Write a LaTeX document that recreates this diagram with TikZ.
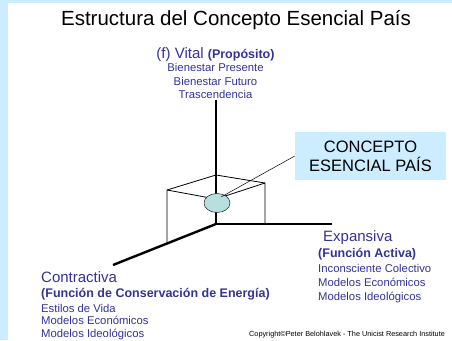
\documentclass[tikz,border=0pt]{standalone}
\usepackage{fontspec}
\setmainfont{Liberation Sans}
\usetikzlibrary{shapes.geometric}
\definecolor{txtblue}{RGB}{51,51,153}
\definecolor{paleblue}{RGB}{204,236,255}
\definecolor{bubble}{RGB}{185,222,222}
\begin{document}
\begin{tikzpicture}[x=1pt,y=-1pt, every node/.style={inner sep=0pt},
  axis/.style={line width=2.4pt},
  edge/.style={line width=0.8pt},
  lbl/.style={anchor=base west,text=txtblue},
  big/.style={font=\fontsize{15}{18}\selectfont},
  sub/.style={font=\fontsize{12.5}{15}\selectfont\bfseries},
  item/.style={font=\fontsize{11.3}{13}\selectfont}]
\fill[paleblue] (0,0) rectangle (452,340);
\fill[white] (8,2.5) rectangle (452,340);
\useasboundingbox (0,0) rectangle (452,340);
\node[anchor=base,font=\fontsize{20.5}{24}\selectfont] (title) at (236,25) {Estructura del Concepto Esencial País};
% axes and cube
\coordinate (o) at (216,224);
\coordinate (top) at (216,100);
\coordinate (expend) at (332,224);
\coordinate (conend) at (113,265);
\coordinate (a) at (167,190);
\coordinate (b) at (216,175);
\coordinate (c) at (265,183);
\coordinate (d) at (216,199);
\coordinate (al) at (167,243);
\coordinate (cr) at (265,224);
\draw[edge] (al) -- (a) -- (b) -- (c) -- (cr);
\draw[edge] (a) -- (d) -- (c);
\draw[axis] (top) -- (o) -- (expend);
\draw[axis] (o) -- (conend);
\node[ellipse,draw,fill=bubble,minimum width=26pt,minimum height=19pt] (core) at (217,203) {};
\node[fill=paleblue,minimum width=151pt,minimum height=48pt,align=center,font=\fontsize{16.5}{19}\selectfont] (concept) at (370.5,156) {CONCEPTO\\ESENCIAL PAÍS};
\coordinate (tip) at (221,197);
\draw[line width=0.5pt] (tip) -- (concept.west);
% vital
\node[lbl,anchor=base,big] (vital) at (215.5,58.3) {(f) Vital {\fontsize{12.5}{15}\selectfont\bfseries (Propósito)}};
\node[lbl,anchor=base,item] (vit1) at (215.5,71) {Bienestar Presente};
\node[lbl,anchor=base,item] (vit2) at (215.5,85.5) {Bienestar Futuro};
\node[lbl,anchor=base,item] (vit3) at (215.5,98.3) {Trascendencia};
% expansiva
\node[lbl,big] (exp) at (323,241.7) {Expansiva};
\node[lbl,sub] (exp0) at (318,257) {(Función Activa)};
\node[lbl,item] (exp1) at (318,272.7) {Inconsciente Colectivo};
\node[lbl,item] (exp2) at (318,286) {Modelos Económicos};
\node[lbl,item] (exp3) at (318,300) {Modelos Ideológicos};
% contractiva
\node[lbl,big] (con) at (41,282.7) {Contractiva};
\node[lbl,sub] (con0) at (41,297) {(Función de Conservación de Energía)};
\node[lbl,item] (con1) at (41,312) {Estilos de Vida};
\node[lbl,item] (con2) at (41,324.5) {Modelos Económicos};
\node[lbl,item] (con3) at (41,337) {Modelos Ideológicos};
\node[anchor=base west,font=\fontsize{7.3}{9}\selectfont] (copy) at (249,336.7) {Copyright©Peter Belohlavek - The Unicist Research Institute};
\end{tikzpicture}
\end{document}
